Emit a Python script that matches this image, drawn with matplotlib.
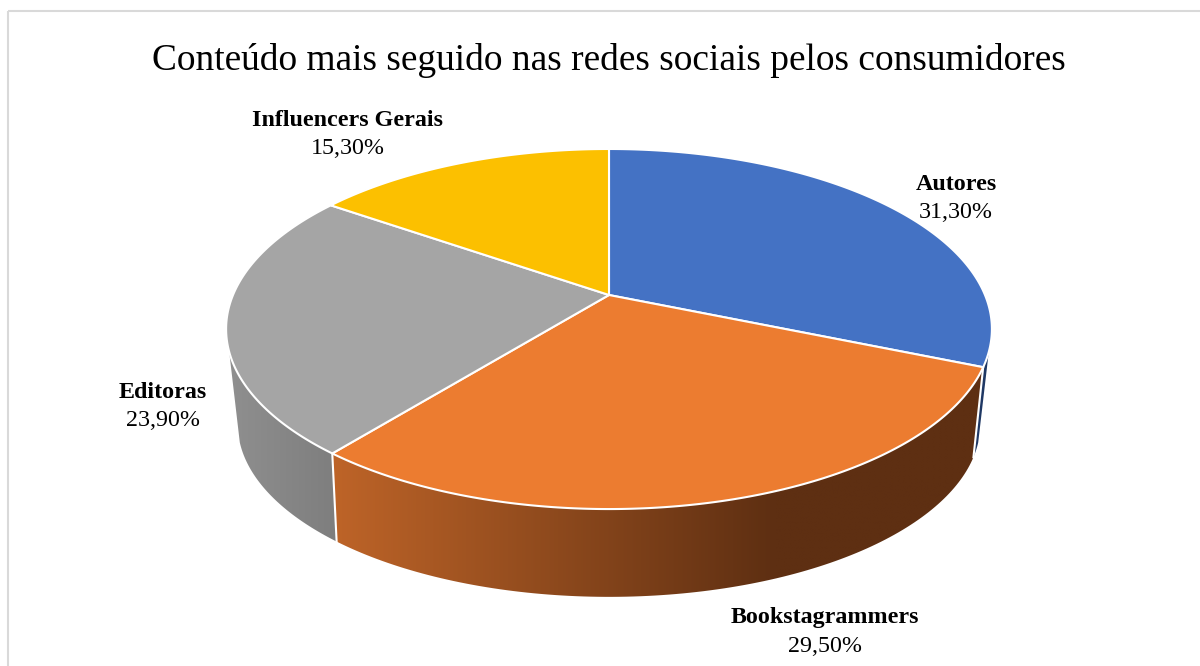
import numpy as np
import matplotlib
matplotlib.use('Agg')
import matplotlib.pyplot as plt
from matplotlib.colors import LinearSegmentedColormap
from matplotlib.patches import Polygon, Rectangle

plt.rcParams['font.family'] = ['Liberation Serif', 'DejaVu Serif']

title = 'Conteúdo mais seguido nas redes sociais pelos consumidores'
categories = ['Autores', 'Bookstagrammers', 'Editoras', 'Influencers Gerais']
shares = [31.3, 29.5, 23.9, 15.3]
top_colors = ['#4472c4', '#ec7c30', '#a5a5a5', '#fcc000']

# wall shading across each slice: (position 0-1, colour)
wall_colors = [
	[(0, '#1f3864'), (1, '#1f3864')],
	[(0, '#be6428'), (0.68, '#5e2f12'), (1, '#5e2f12')],
	[(0, '#8f8f8f'), (1, '#7e7e7e')],
	[(0, '#997300'), (1, '#997300')],
]
label_pos = [(956, 199), (825, 632), (163, 407), (348, 135)]

# pie geometry in canvas pixels
CX, CY = 609, 295
RX, RY = 376, 173.6
TILT = 0.189
LOW_RX, LOW_RY = 363, 165
LOW_TILT = 0.21
LOW_CY = 388
WALL_FROM, WALL_TO = 108.0, 252.0


def rim(theta):
	# clockwise angle from 12 o'clock, projected with some perspective
	t = np.radians(theta)
	w = 1 + TILT * np.cos(t)
	return CX + RX * np.sin(t) / w, CY - RY * np.cos(t) / w


def low_rim(theta):
	t = np.radians(theta)
	w = 1 + LOW_TILT * np.cos(t)
	return CX + LOW_RX * np.sin(t) / w, LOW_CY - LOW_RY * np.cos(t) / w


fig = plt.figure(figsize=(12, 6.66), dpi=100)
ax = fig.add_axes([0, 0, 1, 1])

ax.add_patch(Rectangle((8, 11), 1300, 800, fill=False, ec='#d9d9d9', lw=1.5))

edges = 360 * np.cumsum([0] + shares) / sum(shares)

# walls first, the top face is painted over them
for i in range(len(shares)):
	a, b = max(edges[i], WALL_FROM), min(edges[i + 1], WALL_TO)
	if a >= b:
		continue
	thetas = np.linspace(a, b, 120)
	x1, y1 = rim(thetas)
	x2, y2 = low_rim(thetas)
	outline = np.column_stack([np.r_[x1, x2[::-1]], np.r_[y1, y2[::-1]]])
	cmap = LinearSegmentedColormap.from_list('wall%d' % i, wall_colors[i])
	x_lo, x_hi = outline[:, 0].min(), outline[:, 0].max()
	y_lo, y_hi = outline[:, 1].min(), outline[:, 1].max()
	gradient = np.linspace(0, 1, 256).reshape(1, -1)
	im = ax.imshow(gradient, cmap=cmap, extent=(x_lo, x_hi, y_hi, y_lo), aspect='auto', interpolation='bilinear')
	clip = Polygon(outline, closed=True, transform=ax.transData)
	im.set_clip_path(clip)

# white seams where the slices meet on the wall
for e in edges[1:]:
	if WALL_FROM < e < WALL_TO:
		x1, y1 = rim(e)
		x2, y2 = low_rim(e)
		ax.plot([x1, x2], [y1, y2], color='white', lw=1.5)

for i in range(len(shares)):
	thetas = np.linspace(edges[i], edges[i + 1], 200)
	x, y = rim(thetas)
	ax.fill(np.r_[CX, x], np.r_[CY, y], facecolor=top_colors[i], edgecolor='white', lw=1.5, joinstyle='round')

for name, share, (lx, ly) in zip(categories, shares, label_pos):
	ax.text(lx, ly - 14, name, ha='center', va='center', fontsize=17.3, fontweight='bold', color='black')
	ax.text(lx, ly + 14, ('%.2f%%' % share).replace('.', ','), ha='center', va='center', fontsize=17.3, color='black')

ax.text(609, 60, title, ha='center', va='center', fontsize=26.9, color='black')

ax.set_xlim(0, 1200)
ax.set_ylim(666, 0)
ax.axis('off')

fig.savefig('out.png', dpi=100)
